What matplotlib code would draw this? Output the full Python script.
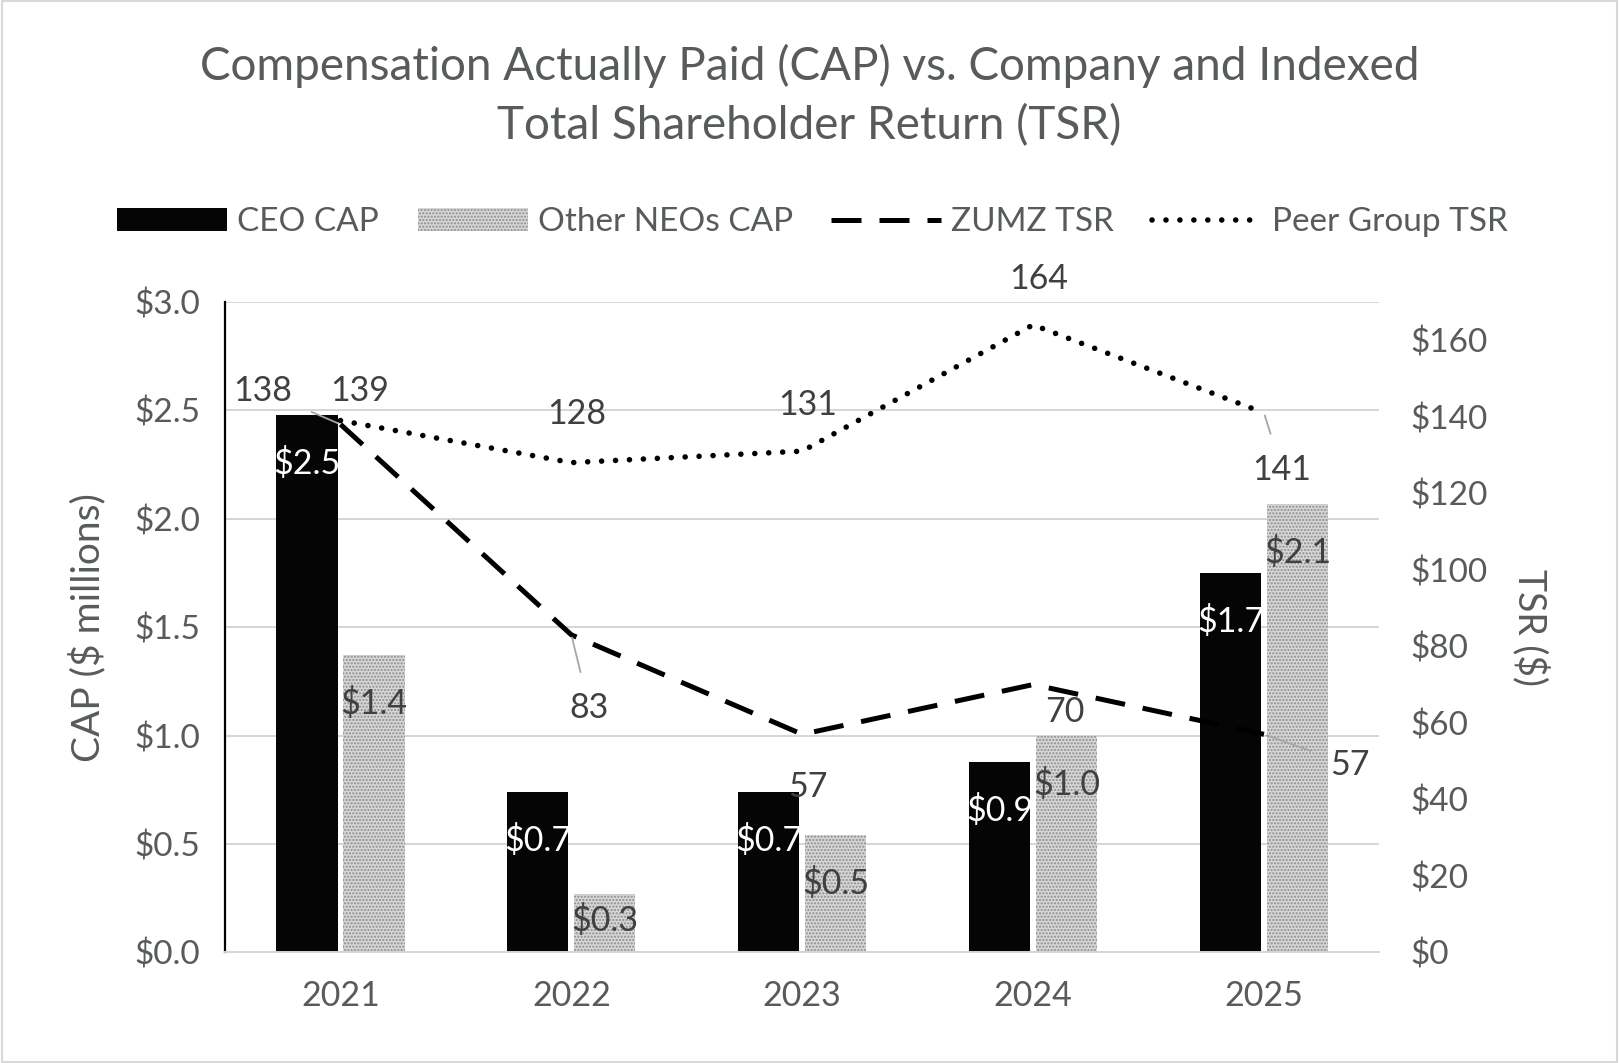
import matplotlib
matplotlib.use('Agg')
import matplotlib.pyplot as plt
from matplotlib.patches import Rectangle
from matplotlib.lines import Line2D
import numpy as np

plt.rcParams['font.family'] = ['Lato', 'DejaVu Sans']

# data
years = ["2021", "2022", "2023", "2024", "2025"]
ceo_cap = [2.48, 0.74, 0.74, 0.88, 1.75]
neo_cap = [1.37, 0.27, 0.54, 1.00, 2.07]
ceo_labels = ["$2.5", "$0.7", "$0.7", "$0.9", "$1.7"]
neo_labels = ["$1.4", "$0.3", "$0.5", "$1.0", "$2.1"]
zumz_tsr = [138, 83, 57, 70, 57]
peer_tsr = [139, 128, 131, 164, 141]

TXT = '#575b59'
LBL = '#404040'
GRID = '#d8d2da'
FS = 24

fig = plt.figure(figsize=(16.19, 10.63), dpi=100)
ax = fig.add_axes([0.139, 0.104, 0.713, 0.612])
ax2 = ax.twinx()

x = np.arange(len(years))
w = 0.265
off = 0.145

ax.bar(x - off, ceo_cap, w, color='#050505', zorder=2)
ax.bar(x + off, neo_cap, w, facecolor='#d6d6d6', edgecolor='#8c8c8c',
       hatch='.....', linewidth=0, zorder=2)

# bar labels
for i in range(len(years)):
    ax.annotate(ceo_labels[i], (x[i] - off, ceo_cap[i]), xytext=(0, -35),
                textcoords='offset points', ha='center', va='center',
                fontsize=FS + 0.5, color='white', zorder=5)
    dy = -19 if neo_cap[i] < 0.4 else -35
    ax.annotate(neo_labels[i], (x[i] + off, neo_cap[i]), xytext=(0, dy),
                textcoords='offset points', ha='center', va='center',
                fontsize=FS + 0.5, color=LBL, zorder=5)

ax.set_ylim(0, 3.0)
ax.set_yticks(np.arange(0, 3.01, 0.5))
ax.set_yticklabels([f"${v:.1f}" for v in np.arange(0, 3.01, 0.5)])
ax.set_xlim(-0.5, 4.5)
ax.set_xticks(x)
ax.set_xticklabels(years)
ax.grid(axis='y', color=GRID, linewidth=1.4, zorder=0)
ax.set_axisbelow(True)

ax.tick_params(axis='y', length=0, pad=18, labelsize=FS, labelcolor=TXT)
ax.tick_params(axis='x', length=0, pad=20, labelsize=FS + 0.5, labelcolor=TXT)
for s in ['top', 'right']:
    ax.spines[s].set_visible(False)
ax.spines['left'].set_color('black')
ax.spines['left'].set_linewidth(1.6)
ax.spines['bottom'].set_color(GRID)
ax.spines['bottom'].set_linewidth(1.4)

# TSR lines
ax2.plot(x, zumz_tsr, color='black', linewidth=3.6, dashes=(6, 3.6), zorder=3)
ax2.plot(x, peer_tsr, color='black', linewidth=4, dashes=(0.01, 2.5),
         dash_capstyle='round', zorder=3)
ax2.set_ylim(0, 170)
ax2.set_yticks(range(0, 161, 20))
ax2.set_yticklabels([f"${v}" for v in range(0, 161, 20)])
ax2.tick_params(axis='y', length=0, pad=22, labelsize=FS, labelcolor=TXT)
for s in ['top', 'right', 'left', 'bottom']:
    ax2.spines[s].set_visible(False)

# line labels (offsets in points)
zumz_off = [(-56, 24), (13, -53), (4, -38), (23, -20), (62, -22)]
zumz_lead = [True, True, False, False, True]
peer_off = [(14, 21), (4, 35), (4, 33), (4, 33), (13, -41)]
peer_lead = [False, False, False, False, True]
for i in range(len(years)):
    for vals, offs, leads in [(zumz_tsr, zumz_off, zumz_lead),
                              (peer_tsr, peer_off, peer_lead)]:
        ap = None
        if leads[i]:
            ap = dict(arrowstyle='-', color='#a6a6a6', linewidth=1.3,
                      shrinkA=13, shrinkB=2)
        ax2.annotate(str(vals[i]), (x[i], vals[i]), xytext=offs[i],
                     textcoords='offset points', ha='center', va='center',
                     fontsize=FS + 0.5, color=LBL, arrowprops=ap, zorder=6)

ax.set_ylabel('CAP ($ millions)', fontsize=28, color=TXT)
ax.yaxis.set_label_coords(-0.103, 0.5)
ax2.set_ylabel('TSR ($)', fontsize=27, color=TXT, rotation=-90, va='bottom')
ax2.yaxis.set_label_coords(1.115, 0.5)

# legend
handles = [
    Rectangle((0, 0), 1, 1, facecolor='#050505'),
    Rectangle((0, 0), 1, 1, facecolor='#d6d6d6', edgecolor='#8c8c8c',
              hatch='.....', linewidth=0),
    Line2D([], [], color='black', linewidth=3.6, dashes=(6, 3.6)),
    Line2D([], [], color='black', linewidth=4, dashes=(0.01, 2.5),
           dash_capstyle='round'),
]
names = ['CEO CAP', 'Other NEOs CAP', 'ZUMZ TSR', 'Peer Group TSR']
leg = fig.legend(handles, names, loc='center', bbox_to_anchor=(0.502, 0.791),
                 ncol=4, frameon=False, fontsize=FS, handlelength=3.3,
                 handleheight=0.68, handletextpad=0.3, columnspacing=1.15,
                 labelcolor=TXT)

fig.text(0.5, 0.91, 'Compensation Actually Paid (CAP) vs. Company and Indexed\nTotal Shareholder Return (TSR)',
         ha='center', va='center', fontsize=33, color=TXT, linespacing=1.45)

fig.patches.append(Rectangle((0.001, 0.001), 0.998, 0.998, transform=fig.transFigure,
                             fill=False, edgecolor='#d9d9d9', linewidth=1.5))

plt.savefig('out.png', dpi=100)
